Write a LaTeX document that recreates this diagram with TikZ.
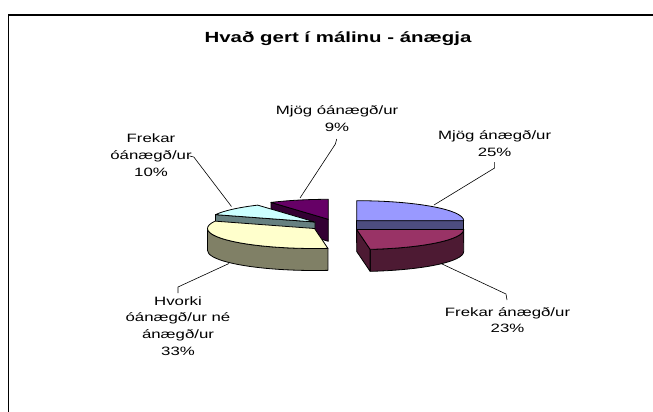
\documentclass[tikz,border=0pt]{standalone}
\usepackage{fontspec}
\setmainfont{Liberation Sans}[FakeStretch=1.39]
\definecolor{blueT}{HTML}{9999FF}
\definecolor{blueS}{HTML}{4D4D80}
\definecolor{crimT}{HTML}{993366}
\definecolor{crimS}{HTML}{4D1A33}
\definecolor{purT}{HTML}{660066}
\definecolor{purS}{HTML}{330033}
\definecolor{cyanT}{HTML}{CCFFFF}
\definecolor{cyanS}{HTML}{668080}
\definecolor{yelT}{HTML}{FFFFCC}
\definecolor{yelS}{HTML}{808066}
\begin{document}
\begin{tikzpicture}[x=1pt,y=-1pt,
  slice/.style={draw=black, line width=0.8pt, line join=round},
  lab/.style={font=\fontsize{12.1}{16.7}\selectfont, align=center, inner sep=0pt},
  leader/.style={draw=black, line width=0.6pt},
  er/.style={x radius=107, y radius=20}]
\useasboundingbox[fill=white] (0,0) rectangle (653,412);
% frame
\draw[line width=1.2pt] (8.3,412) -- (8.3,15) -- (653,15);
% title
\node[font=\fontsize{14.7}{17}\selectfont\bfseries, anchor=base, inner sep=0pt] (title) at (338,43) {Hvað gert í málinu - ánægja};

% ---- right group ----
% blue (Mjög ánægð/ur) C1=(356.7,220.7)
\fill[blueS, slice] (356.7,220.7) -- (463.7,220.7) -- (463.7,242.7) -- (356.7,242.7) -- cycle;
\fill[blueT, slice] (356.7,220.7) -- (356.7,200.7) arc[er, start angle=-90, end angle=0] -- cycle;
% crimson (Frekar ánægð/ur) C2=(356.7,229.5)
\fill[crimS, slice] (463.7,229.5) arc[er, start angle=0, end angle=82.8] -- ++(0,22) arc[er, start angle=82.8, end angle=0] -- cycle;
\fill[crimS, slice] (356.7,229.5) -- (370.1,249.3) -- (370.1,271.3) -- (356.7,251.5) -- cycle;
\fill[crimT, slice] (356.7,229.5) -- (463.7,229.5) arc[er, start angle=0, end angle=82.8] -- cycle;

% ---- left group ----
% purple (Mjög óánægð/ur) C5=(328.3,219.3)
\fill[purS, slice] (271,202.4) -- (328.3,219.3) -- (328.3,241.3) -- (271,224.4) -- cycle;
\fill[purT, slice] (328.3,219.3) -- (328.3,199.3) arc[er, start angle=-90, end angle=-122.4] -- cycle;
% cyan (Frekar óánægð/ur) C3=(315,222)
\fill[cyanS, slice] (215.51,214.64) -- (315,222) -- (315,244) -- (215.51,236.64) -- cycle;
\fill[cyanT, slice] (315,222) -- (257.66,205.12) arc[er, start angle=-122.4, end angle=-158.4] -- cycle;
% yellow (Hvorki) C4=(314.5,228.5)
\fill[yelS, slice] (207.5,228.5) arc[er, start angle=-180, end angle=-277.2] -- ++(0,22) arc[er, start angle=-277.2, end angle=-180] -- cycle;
\fill[yelT, slice] (314.5,228.5) -- (215.01,221.14) arc[er, start angle=-158.4, end angle=-277.2] -- cycle;

% ---- labels ----
\node[lab] (L1) at (337,118.3) {Mjög óánægð/ur\\9\%};
\node[lab] (L2) at (494.6,143.3) {Mjög ánægð/ur\\25\%};
\node[lab] (L3) at (151,155) {Frekar\\óánægð/ur\\10\%};
\node[lab] (L4) at (178,326) {Hvorki\\óánægð/ur né\\ánægð/ur\\33\%};
\node[lab] (L5) at (507.5,320) {Frekar ánægð/ur\\23\%};

% ---- leader lines ----
\coordinate (s1) at (336.7,139); \coordinate (b1) at (335.4,144); \coordinate (e1) at (300,198);
\coordinate (s2) at (494.6,162); \coordinate (b2) at (494.6,168); \coordinate (e2) at (434,205);
\coordinate (s3) at (189.6,156); \coordinate (b3) at (193.8,157); \coordinate (e3) at (231.5,206.5);
\coordinate (s4) at (178,293);   \coordinate (b4) at (178,287);   \coordinate (e4) at (229,263.5);
\coordinate (s5) at (507,300);   \coordinate (b5) at (506,294);   \coordinate (e5) at (441,263.5);
\draw[leader] (s1) -- (b1) -- (e1);
\draw[leader] (s2) -- (b2) -- (e2);
\draw[leader] (s3) -- (b3) -- (e3);
\draw[leader] (s4) -- (b4) -- (e4);
\draw[leader] (s5) -- (b5) -- (e5);
\end{tikzpicture}
\end{document}
